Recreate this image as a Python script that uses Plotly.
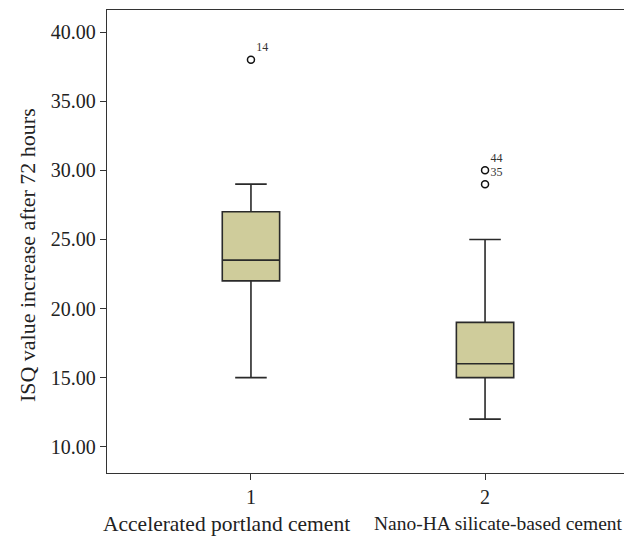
import plotly.graph_objects as go

groups = ["1", "2"]
group_names = ["Accelerated portland cement", "Nano-HA silicate-based cement"]
y_title = "ISQ value increase after 72 hours"
q1 = [22.0, 15.0]
median = [23.5, 16.0]
q3 = [27.0, 19.0]
lower = [15.0, 12.0]
upper = [29.0, 25.0]
outlier_x = [1, 2, 2]
outlier_y = [38.0, 30.0, 29.0]
outlier_ids = ["14", "44", "35"]

FONT = "Liberation Serif"
fig = go.Figure()
for i in range(2):
    fig.add_trace(go.Box(
        x=[i + 1], q1=[q1[i]], median=[median[i]], q3=[q3[i]],
        lowerfence=[lower[i]], upperfence=[upper[i]],
        width=0.245, whiskerwidth=0.55,
        fillcolor="rgb(207,204,155)",
        line=dict(color="#2a2a2a", width=1.6),
        boxpoints=False, showlegend=False, hoverinfo="skip",
    ))

fig.add_trace(go.Scatter(
    x=outlier_x, y=outlier_y, mode="markers+text",
    marker=dict(symbol="circle-open", size=7, color="#111", line=dict(width=1.5)),
    text=outlier_ids, textposition="top right",
    textfont=dict(family=FONT, size=12, color="#333"),
    showlegend=False, hoverinfo="skip", cliponaxis=False,
))

label_x = [-0.0115, 0.508]
label_size = [21.5, 19.5]
for i, name in enumerate(group_names):
    fig.add_annotation(x=label_x[i], xref="paper", xanchor="left",
                       y=-0.11, yref="paper",
                       text=name, showarrow=False, yanchor="middle",
                       font=dict(family=FONT, size=label_size[i], color="#222"))

fig.add_annotation(x=-0.151, xref="paper", y=0.471, yref="paper",
                   text=y_title, textangle=-90, showarrow=False,
                   xanchor="center", yanchor="middle",
                   font=dict(family=FONT, size=22, color="#222"))

fig.update_layout(
    width=624, height=531,
    margin=dict(l=99, r=3, t=2, b=66),
    paper_bgcolor="white", plot_bgcolor="white",
    font=dict(family=FONT, size=20, color="#222"),
    xaxis=dict(range=[0.385, 2.615], tickvals=[1, 2], ticktext=groups,
               showgrid=False, zeroline=False, showline=True, mirror=True,
               linecolor="#333", linewidth=1.3, ticks="outside", ticklen=6,
               tickcolor="#333", tickfont=dict(family=FONT, size=20, color="#222")),
    yaxis=dict(range=[8.1, 41.6], tickvals=[10, 15, 20, 25, 30, 35, 40],
               tickformat=".2f", showgrid=False, zeroline=False, showline=True,
               mirror=True, linecolor="#333", linewidth=1.3, ticks="outside",
               ticklen=6, tickcolor="#333",
               tickfont=dict(family=FONT, size=20, color="#222")),
)

fig.write_html("out.html")
